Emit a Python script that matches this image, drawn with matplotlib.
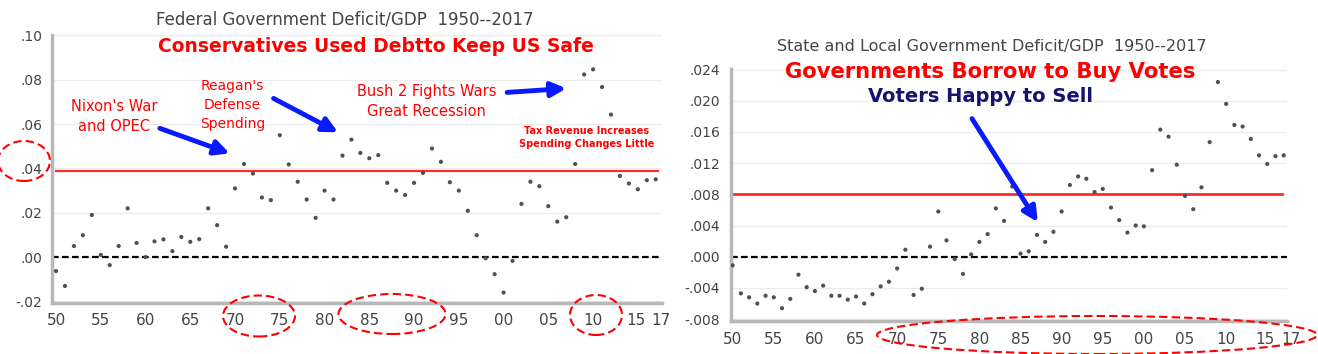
import matplotlib.pyplot as plt
import matplotlib.transforms as mtransforms
from matplotlib.patches import Ellipse

W, H = 1318, 354

# --- data ---
fed_years = list(range(1950, 2018))
fed_deficit = [
    -0.0063, -0.013, 0.005, 0.0099, 0.019, 0.001, -0.0036, 0.005, 0.022, 0.0064,
    0.0, 0.0071, 0.008, 0.0027, 0.0091, 0.0069, 0.0081, 0.022, 0.0144, 0.0047,
    0.031, 0.042, 0.0377, 0.0269, 0.0257, 0.055, 0.0418, 0.034, 0.026, 0.0177,
    0.030, 0.026, 0.0458, 0.053, 0.047, 0.0446, 0.046, 0.0335, 0.030, 0.028,
    0.0335, 0.038, 0.049, 0.043, 0.0338, 0.030, 0.0209, 0.0099, -0.0005, -0.0077,
    -0.016, -0.0017, 0.024, 0.034, 0.032, 0.023, 0.016, 0.018, 0.042, 0.0824,
    0.0847, 0.0767, 0.0643, 0.0366, 0.0332, 0.0306, 0.0347, 0.0351,
]
fed_ref = 0.039

sl_years = list(range(1950, 2018))
sl_deficit = [
    -0.0011, -0.0047, -0.0052, -0.006, -0.005, -0.0052, -0.0066, -0.0054, -0.0023, -0.0039,
    -0.0044, -0.0037, -0.005, -0.005, -0.0055, -0.0051, -0.006, -0.0048, -0.0038, -0.0032,
    -0.0015, 0.0009, -0.0049, -0.0041, 0.0013, 0.0058, 0.0021, -0.0003, -0.0022, 0.0003,
    0.0019, 0.0029, 0.0062, 0.0046, 0.009, 0.0004, 0.0007, 0.0028, 0.0019, 0.0032,
    0.0058, 0.0092, 0.0103, 0.010, 0.0083, 0.0087, 0.0063, 0.0047, 0.0031, 0.004,
    0.0039, 0.0111, 0.0163, 0.0154, 0.0118, 0.0078, 0.0061, 0.0089, 0.0147, 0.0224,
    0.0196, 0.0169, 0.0167, 0.0151, 0.013, 0.0119, 0.0129, 0.013,
]
sl_ref = 0.0081

xticks = [1950, 1955, 1960, 1965, 1970, 1975, 1980, 1985, 1990, 1995, 2000, 2005, 2010, 2015, 2017]
xtick_labels = ['50', '55', '60', '65', '70', '75', '80', '85', '90', '95', '00', '05', '10', '15', '17']
fed_yticks = [-0.02, 0.0, 0.02, 0.04, 0.06, 0.08, 0.10]
fed_ylabels = ['-.02', '.00', '.02', '.04', '.06', '.08', '.10']
sl_yticks = [-0.008, -0.004, 0.0, 0.004, 0.008, 0.012, 0.016, 0.020, 0.024]
sl_ylabels = ['-.008', '-.004', '.000', '.004', '.008', '.012', '.016', '.020', '.024']


def fx(px):
    return px / W


def fy(py):
    return 1 - py / H


fig = plt.figure(figsize=(W / 100, H / 100), dpi=100)
fig.patch.set_facecolor('white')


def style_axes(ax, yticks, ylabels, ypad, xpad):
    ax.set_xticks(xticks)
    ax.set_xticklabels(xtick_labels)
    ax.set_yticks(yticks)
    ax.set_yticklabels(ylabels)
    ax.tick_params(axis='x', length=0, pad=xpad, labelsize=11, labelcolor='#444444')
    ax.tick_params(axis='y', length=0, pad=ypad, labelsize=10, labelcolor='#444444')
    for s in ['top', 'right']:
        ax.spines[s].set_visible(False)
    for s in ['left', 'bottom']:
        ax.spines[s].set_color('#b8b8b8')
        ax.spines[s].set_linewidth(2.5)
    ax.set_xticks([1960, 1970, 1980, 1990, 2000, 2010], minor=True)
    ax.tick_params(which='minor', length=0)
    ax.grid(True, which='minor', axis='x', color='#ececec', lw=0.9)
    ax.grid(True, which='major', axis='y', color='#ececec', lw=0.9)
    ax.set_axisbelow(True)


def nudge_last_labels(ax, shifts):
    # the reference pushes "15" and "17" apart
    for lab, dx in zip(ax.get_xticklabels()[-2:], shifts):
        lab.set_transform(lab.get_transform()
                          + mtransforms.ScaledTranslation(dx / 100, 0, fig.dpi_scale_trans))


# --- left panel: federal ---
ax1 = fig.add_axes([fx(52), fy(303), fx(662) - fx(52), fy(35) - fy(303)])
ax1.set_xlim(1949.55, 2017.7)
ax1.set_ylim(-0.0207, 0.1002)
style_axes(ax1, fed_yticks, fed_ylabels, 7, 7)
ax1.axhline(0, color='black', ls=(0, (3, 1.5)), lw=1.6, xmax=0.995)
ax1.plot([1950, 2017.3], [fed_ref, fed_ref], color='#ff2a2a', lw=1.6)
ax1.scatter(fed_years, fed_deficit, s=9, color='#505050', zorder=3, edgecolors='none')
nudge_last_labels(ax1, [-2, 5])

ax1.text(1956.5, 0.0635, "Nixon's War\nand OPEC", color='red', ha='center', va='center',
         fontsize=10.5, linespacing=1.45)
ax1.text(1969.7, 0.0685, "Reagan's\nDefense\nSpending", color='red', ha='center', va='center',
         fontsize=10, linespacing=1.45)
ax1.text(1991.4, 0.0703, "Bush 2 Fights Wars\nGreat Recession", color='red', ha='center', va='center',
         fontsize=10.5, linespacing=1.45)
ax1.text(2009.3, 0.054, "Tax Revenue Increases\nSpending Changes Little", color='red', ha='center',
         va='center', fontsize=7, fontweight='bold', linespacing=1.4)

arrow = dict(arrowstyle='-|>', color='#0a1aff', lw=3.5, mutation_scale=22, shrinkA=0, shrinkB=0)
ax1.annotate('', xy=(1969.4, 0.0468), xytext=(1961.6, 0.0581), arrowprops=arrow)
ax1.annotate('', xy=(1981.5, 0.0563), xytext=(1974.3, 0.0716), arrowprops=arrow)
ax1.annotate('', xy=(2007.0, 0.0761), xytext=(2000.4, 0.0743), arrowprops=arrow)

fig.text(fx(345), fy(19), 'Federal Government Deficit/GDP  1950--2017', ha='center', va='center',
         fontsize=12, color='#444444')
fig.text(fx(376), fy(47), 'Conservatives Used Debtto Keep US Safe', ha='center', va='center',
         fontsize=13.5, color='red', fontweight='heavy')

# --- right panel: state and local ---
ax2 = fig.add_axes([fx(731), fy(320.7), fx(1287) - fx(731), fy(68.8) - fy(320.7)])
ax2.set_xlim(1949.8, 2017.4)
ax2.set_ylim(-0.0082, 0.0241)
style_axes(ax2, sl_yticks, sl_ylabels, 8, 8)
ax2.axhline(0, color='black', ls=(0, (3, 1.5)), lw=1.6)
ax2.plot([1949.8, 2016.8], [sl_ref, sl_ref], color='#ff2a2a', lw=2)
ax2.scatter(sl_years, sl_deficit, s=9, color='#505050', zorder=3, edgecolors='none')
ax2.annotate('', xy=(1987.1, 0.00443), xytext=(1979.1, 0.01771), arrowprops=arrow)
nudge_last_labels(ax2, [-2, 7])

fig.text(fx(992), fy(47), 'State and Local Government Deficit/GDP  1950--2017', ha='center',
         va='center', fontsize=11.5, color='#444444')
fig.text(fx(990), fy(72), 'Governments Borrow to Buy Votes', ha='center', va='center',
         fontsize=15.2, color='red', fontweight='heavy')
fig.text(fx(981), fy(97), 'Voters Happy to Sell', ha='center', va='center',
         fontsize=14, color='#14146e', fontweight='heavy')

# --- dashed red circles ---
circles = [(24, 161, 52, 40), (259, 316, 72, 41), (392, 314, 107, 40), (596, 315, 52, 40),
           (1097, 335, 440, 38)]
for cx, cy, w, h in circles:
    fig.add_artist(Ellipse((fx(cx), fy(cy)), w / W, h / H, transform=fig.transFigure,
                           fill=False, edgecolor='red', ls=(0, (4, 2)), lw=1.5))

fig.savefig('out.png', dpi=100)
